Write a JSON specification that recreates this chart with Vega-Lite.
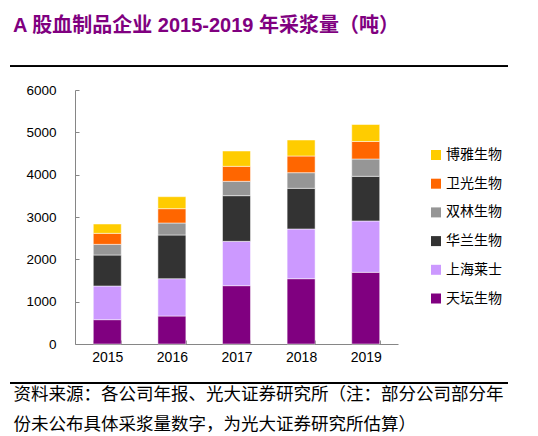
{
  "$schema": "https://vega.github.io/schema/vega-lite/v6.json",
  "width": 498,
  "height": 254,
  "autosize": {"type": "none"},
  "padding": {"left": 10, "top": 90, "right": 30, "bottom": 92},
  "background": "white",
  "title": {
    "text": "A 股血制品企业 2015-2019 年采浆量（吨）",
    "anchor": "start",
    "frame": "group",
    "font": "Liberation Sans, Noto Sans CJK SC",
    "fontSize": 20,
    "fontWeight": "bold",
    "color": "#800080",
    "dx": 3,
    "offset": 30
  },
  "config": {
    "view": {"stroke": null},
    "axis": {"labelFont": "Liberation Sans", "labelFontSize": 13.5, "labelColor": "#000000", "domainColor": "#868686", "tickColor": "#868686", "grid": false}
  },
  "data": {
    "values": [
      {"year": "2015", "company": "天坛生物", "rank": 1, "value": 575},
      {"year": "2015", "company": "上海莱士", "rank": 2, "value": 795},
      {"year": "2015", "company": "华兰生物", "rank": 3, "value": 732},
      {"year": "2015", "company": "双林生物", "rank": 4, "value": 252},
      {"year": "2015", "company": "卫光生物", "rank": 5, "value": 260},
      {"year": "2015", "company": "博雅生物", "rank": 6, "value": 221},
      {"year": "2016", "company": "天坛生物", "rank": 1, "value": 661},
      {"year": "2016", "company": "上海莱士", "rank": 2, "value": 882},
      {"year": "2016", "company": "华兰生物", "rank": 3, "value": 1032},
      {"year": "2016", "company": "双林生物", "rank": 4, "value": 283},
      {"year": "2016", "company": "卫光生物", "rank": 5, "value": 339},
      {"year": "2016", "company": "博雅生物", "rank": 6, "value": 283},
      {"year": "2017", "company": "天坛生物", "rank": 1, "value": 1378},
      {"year": "2017", "company": "上海莱士", "rank": 2, "value": 1047},
      {"year": "2017", "company": "华兰生物", "rank": 3, "value": 1079},
      {"year": "2017", "company": "双林生物", "rank": 4, "value": 339},
      {"year": "2017", "company": "卫光生物", "rank": 5, "value": 354},
      {"year": "2017", "company": "博雅生物", "rank": 6, "value": 362},
      {"year": "2018", "company": "天坛生物", "rank": 1, "value": 1543},
      {"year": "2018", "company": "上海莱士", "rank": 2, "value": 1174},
      {"year": "2018", "company": "华兰生物", "rank": 3, "value": 960},
      {"year": "2018", "company": "双林生物", "rank": 4, "value": 370},
      {"year": "2018", "company": "卫光生物", "rank": 5, "value": 394},
      {"year": "2018", "company": "博雅生物", "rank": 6, "value": 378},
      {"year": "2019", "company": "天坛生物", "rank": 1, "value": 1693},
      {"year": "2019", "company": "上海莱士", "rank": 2, "value": 1213},
      {"year": "2019", "company": "华兰生物", "rank": 3, "value": 1055},
      {"year": "2019", "company": "双林生物", "rank": 4, "value": 409},
      {"year": "2019", "company": "卫光生物", "rank": 5, "value": 414},
      {"year": "2019", "company": "博雅生物", "rank": 6, "value": 401}
    ]
  },
  "layer": [
    {
      "mark": {"type": "bar", "stroke": "white", "strokeWidth": 0.5},
      "encoding": {
        "x": {
          "field": "year", "type": "nominal",
          "scale": {"range": [65, 388], "paddingInner": 0.567, "paddingOuter": 0.283},
          "axis": {
            "labelAngle": 0, "tickBand": "extent", "tickSize": -4, "labelPadding": 10, "labelFontSize": 14,
            "title": ["资料来源：各公司年报、光大证券研究所（注：部分公司部分年", "份未公布具体采浆量数字，为光大证券研究所估算）"],
            "titleFont": "Noto Sans CJK SC", "titleFontSize": 17.5, "titleFontWeight": "normal", "titleColor": "#000000",
            "titleAnchor": "start", "titleAlign": "left", "titleBaseline": "top", "titleX": 3, "titleY": 41, "titleLineHeight": 30
          }
        },
        "y": {
          "field": "value", "type": "quantitative", "stack": "zero",
          "scale": {"domain": [0, 6000], "nice": false},
          "axis": {"values": [0, 1000, 2000, 3000, 4000, 5000, 6000], "title": null, "offset": -65, "tickSize": -4, "labelPadding": 23, "format": "d"}
        },
        "order": {"field": "rank", "type": "quantitative", "sort": "ascending"},
        "color": {
          "field": "company", "type": "nominal",
          "scale": {"domain": ["博雅生物", "卫光生物", "双林生物", "华兰生物", "上海莱士", "天坛生物"], "range": ["#FFCC00", "#FF6600", "#969696", "#333333", "#CC99FF", "#800080"]},
          "legend": {
            "orient": "none", "legendX": 419, "legendY": 58, "title": null,
            "symbolType": "square", "symbolSize": 100, "symbolStrokeWidth": 0,
            "labelFont": "Noto Sans CJK SC", "labelFontSize": 14, "labelColor": "#000000", "rowPadding": 14.7, "labelOffset": 3
          }
        }
      }
    },
    {
      "mark": {"type": "rule", "color": "#000000", "strokeWidth": 1},
      "encoding": {"y": {"datum": 6557, "type": "quantitative"}}
    },
    {
      "mark": {"type": "rule", "color": "#000000", "strokeWidth": 1},
      "encoding": {"y": {"datum": -921, "type": "quantitative"}}
    }
  ]
}
